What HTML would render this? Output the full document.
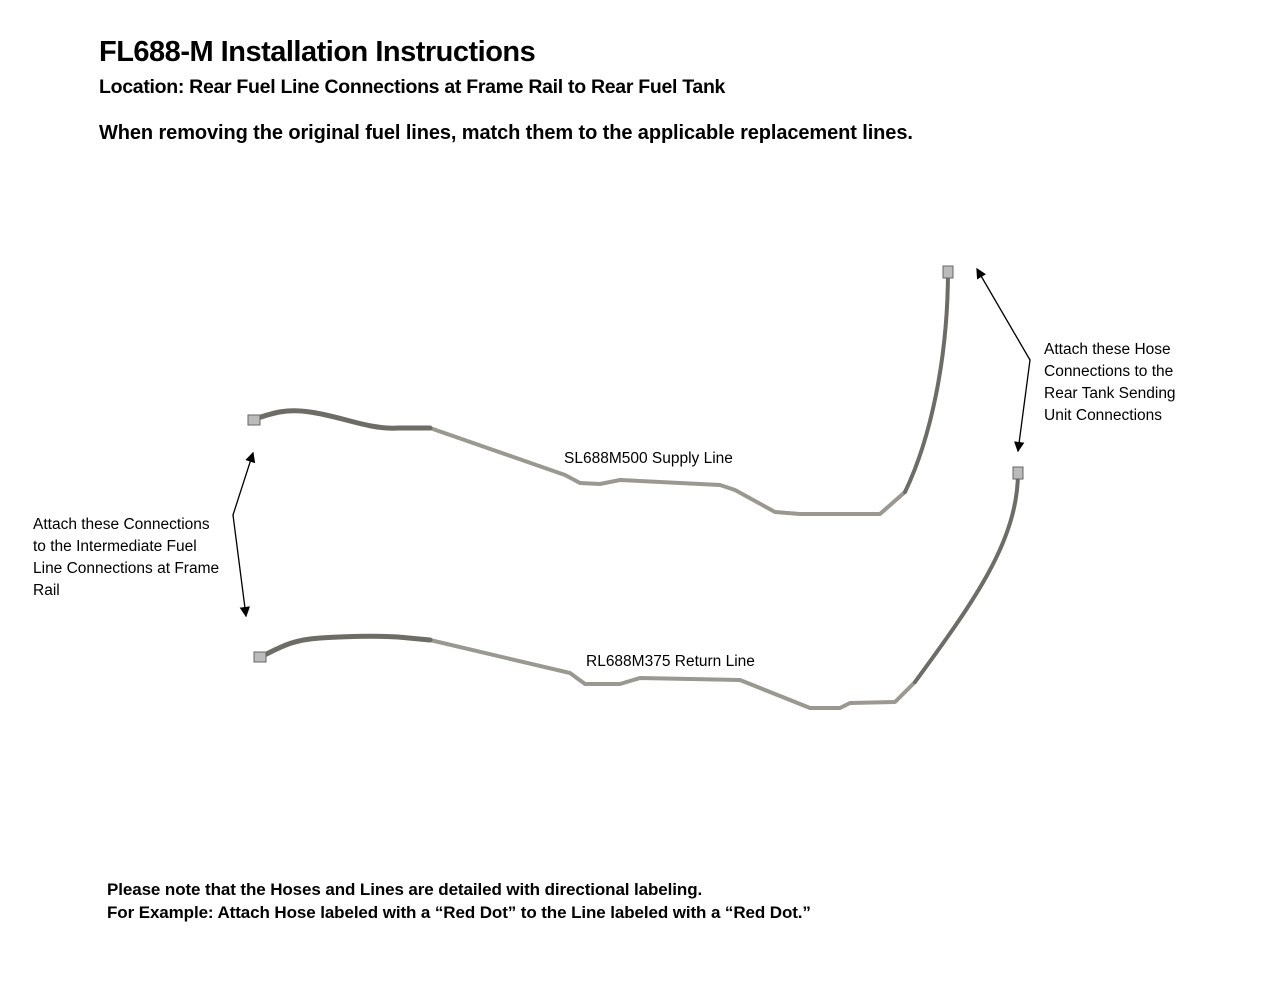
<!DOCTYPE html>
<html><head><meta charset="utf-8"><style>
body{margin:0;width:1280px;height:989px;background:#fff;position:relative;font-family:"Liberation Sans",sans-serif;overflow:hidden}
.t{position:absolute;white-space:nowrap;color:#000}
</style></head><body>
<div class="t" style="left:99px;top:36px;font-size:29px;font-weight:bold;letter-spacing:-0.5px">FL688-M Installation Instructions</div>
<div class="t" style="left:99px;top:76px;font-size:19.5px;font-weight:bold;letter-spacing:-0.3px">Location: Rear Fuel Line Connections at Frame Rail to Rear Fuel Tank</div>
<div class="t" style="left:99px;top:122px;font-size:20px;font-weight:bold;letter-spacing:-0.1px">When removing the original fuel lines, match them to the applicable replacement lines.</div>
<div class="t" style="left:33px;top:514px;font-size:15.5px;line-height:22px">Attach these Connections<br>to the Intermediate Fuel<br>Line Connections at Frame<br>Rail</div>
<div class="t" style="left:1044px;top:339px;font-size:15.5px;line-height:22px">Attach these Hose<br>Connections to the<br>Rear Tank Sending<br>Unit Connections</div>
<div class="t" style="left:564px;top:450px;font-size:15.5px">SL688M500 Supply Line</div>
<div class="t" style="left:586px;top:653px;font-size:15.5px">RL688M375 Return Line</div>
<div class="t" style="left:107px;top:878px;font-size:17px;font-weight:bold;line-height:23px;letter-spacing:-0.1px">Please note that the Hoses and Lines are detailed with directional labeling.<br>For Example: Attach Hose labeled with a “Red Dot” to the Line labeled with a “Red Dot.”</div>
<svg width="1280" height="989" style="position:absolute;left:0;top:0">
<defs><marker id="a" markerWidth="8" markerHeight="8" refX="7" refY="4" orient="auto"><path d="M0,0 L8,4 L0,8z" fill="#000"/></marker></defs>
<g fill="none" stroke-linejoin="round" stroke-linecap="round">
<path d="M430,428 L565,475 L580,483 L600,484 L620,480 L720,485 L735,490 L775,512 L800,514 L880,514 L905,492" stroke="#9a9890" stroke-width="4"/>
<path d="M252,420 C270,414 285,408 310,412 C340,416 370,430 398,428 L430,428" stroke="#6e6c66" stroke-width="5"/>
<path d="M905,492 C930,440 948,360 948,270" stroke="#6e6c66" stroke-width="4"/>
<path d="M430,640 L570,673 L585,684 L620,684 L640,678 L740,680 L755,686 L800,704 L810,708 L840,708 L850,703 L895,702 L915,682" stroke="#9a9890" stroke-width="4"/>
<path d="M258,658 C280,648 290,640 320,638 C350,636 380,636 398,637 L430,640" stroke="#6e6c66" stroke-width="5"/>
<path d="M915,682 C975,600 1018,540 1018,472" stroke="#6e6c66" stroke-width="4"/>
<path d="M233,515 L253,453" stroke="#000" stroke-width="1.3" marker-end="url(#a)"/>
<path d="M233,515 L246,616" stroke="#000" stroke-width="1.3" marker-end="url(#a)"/>
<path d="M1030,360 L977,269" stroke="#000" stroke-width="1.3" marker-end="url(#a)"/>
<path d="M1030,360 L1018,451" stroke="#000" stroke-width="1.3" marker-end="url(#a)"/>
</g>
<rect x="248" y="415" width="12" height="10" fill="#bbb" stroke="#666"/>
<rect x="254" y="652" width="12" height="10" fill="#bbb" stroke="#666"/>
<rect x="943" y="266" width="10" height="12" fill="#bbb" stroke="#666"/>
<rect x="1013" y="467" width="10" height="12" fill="#bbb" stroke="#666"/>
</svg>
</body></html>
